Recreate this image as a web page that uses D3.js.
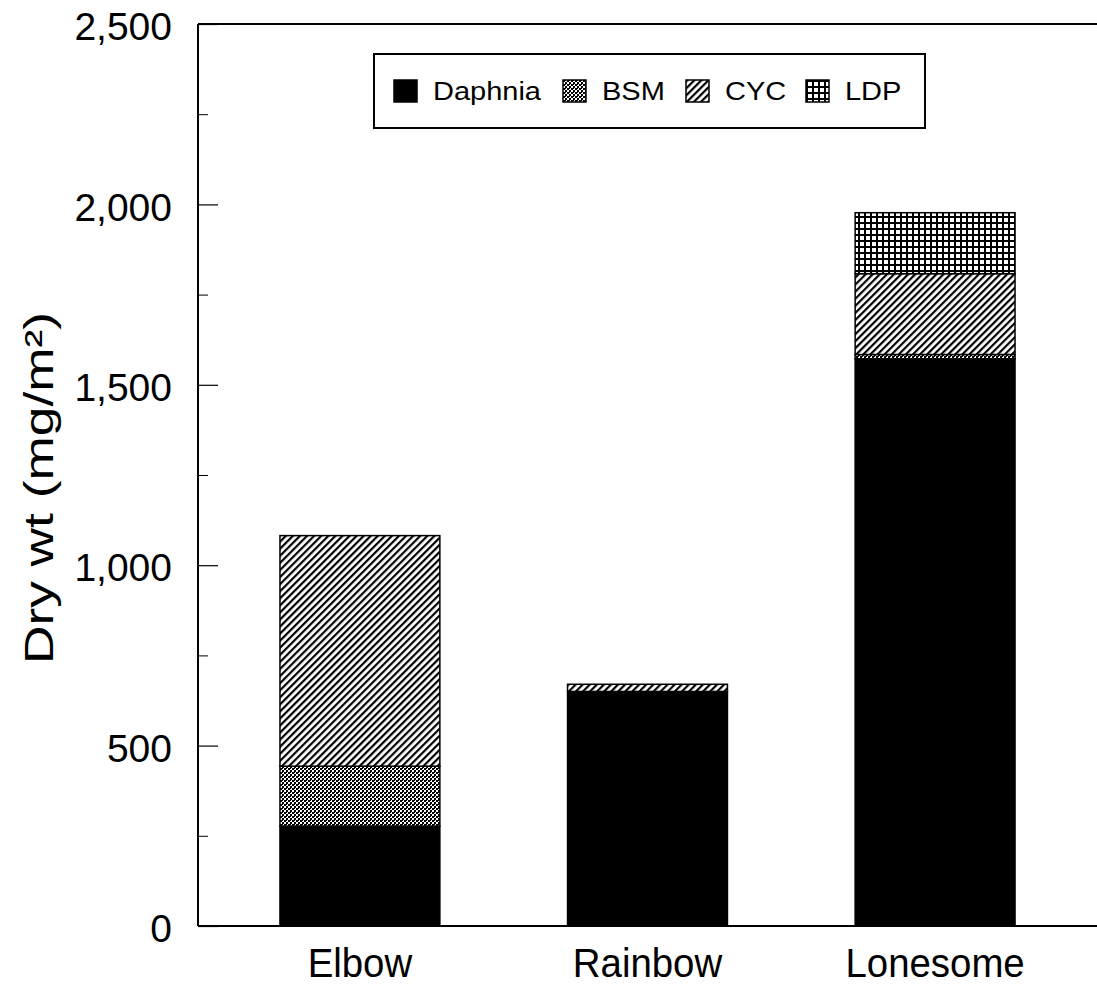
<!DOCTYPE html>
<html>
<head>
<meta charset="utf-8">
<script src="https://cdn.jsdelivr.net/npm/d3@7"></script>
<style>
  body { margin: 0; background: #fff; }
  text { font-family: "Liberation Sans", Arial, sans-serif; fill: #000; }
</style>
</head>
<body>
<script>
// lakes and taxa
var lakes = ['Elbow', 'Rainbow', 'Lonesome'];
var taxa = ['Daphnia', 'BSM', 'CYC', 'LDP'];

// dry weight (mg/m2) per taxon, one value per lake
var daphnia = [277, 650, 1572];
var bsm = [166, 0, 12];
var cyc = [639, 20, 224];
var ldp = [0, 0, 169];

var yTicks = [0, 500, 1000, 1500, 2000, 2500];
var yMinor = [250, 750, 1250, 1750, 2250];

var width = 1097, height = 988;
var plotLeft = 198, plotRight = 1097, plotTop = 24, plotBottom = 926;

var svg = d3.select('body').append('svg')
  .attr('width', width)
  .attr('height', height);

// patterns for the fills
var defs = svg.append('defs');

var pBsm = defs.append('pattern').attr('id', 'bsm')
  .attr('patternUnits', 'userSpaceOnUse').attr('width', 4).attr('height', 4);
pBsm.append('rect').attr('width', 4).attr('height', 4).attr('fill', '#fff');
pBsm.append('rect').attr('x', 0).attr('y', 0).attr('width', 2).attr('height', 2).attr('fill', '#000');
pBsm.append('rect').attr('x', 2).attr('y', 2).attr('width', 2).attr('height', 2).attr('fill', '#000');
pBsm.append('rect').attr('x', 2).attr('y', 0).attr('width', 1).attr('height', 1).attr('fill', '#000');

var pCyc = defs.append('pattern').attr('id', 'cyc')
  .attr('patternUnits', 'userSpaceOnUse').attr('width', 5).attr('height', 5)
  .attr('patternTransform', 'rotate(45)');
pCyc.append('rect').attr('width', 5).attr('height', 5).attr('fill', '#fff');
pCyc.append('rect').attr('x', 0).attr('y', 0).attr('width', 2.2).attr('height', 5).attr('fill', '#000');

var pLdp = defs.append('pattern').attr('id', 'ldp')
  .attr('patternUnits', 'userSpaceOnUse').attr('width', 6).attr('height', 6);
pLdp.append('rect').attr('width', 6).attr('height', 6).attr('fill', '#000');
pLdp.append('rect').attr('x', 2).attr('y', 2).attr('width', 4).attr('height', 4).attr('fill', '#fff');

var fills = { Daphnia: '#000', BSM: 'url(#bsm)', CYC: 'url(#cyc)', LDP: 'url(#ldp)' };

var x = d3.scaleBand()
  .domain(lakes)
  .range([plotLeft, plotRight])
  .paddingInner(0.444)
  .paddingOuter(0.285);

var y = d3.scaleLinear()
  .domain([0, 2500])
  .range([plotBottom, plotTop]);

// stack the series
var rows = lakes.map(function(d, i) {
  return { lake: d, Daphnia: daphnia[i], BSM: bsm[i], CYC: cyc[i], LDP: ldp[i] };
});
var series = d3.stack().keys(taxa)(rows);

var g = svg.append('g');
series.forEach(function(s) {
  g.selectAll(null)
    .data(s.filter(function(d) { return d[1] > d[0]; }))
    .enter()
    .append('rect')
    .attr('x', function(d) { return x(d.data.lake); })
    .attr('width', x.bandwidth())
    .attr('y', function(d) { return y(d[1]); })
    .attr('height', function(d) { return y(d[0]) - y(d[1]); })
    .attr('fill', fills[s.key])
    .attr('stroke', '#000')
    .attr('stroke-width', 1.5);
});

// minor ticks
svg.append('g')
  .attr('transform', 'translate(' + plotLeft + ',0)')
  .call(d3.axisLeft(y).tickValues(yMinor).tickSize(-10).tickFormat(''))
  .call(function(a) { a.select('.domain').remove(); });

// major ticks + labels
var yAxis = svg.append('g')
  .attr('transform', 'translate(' + plotLeft + ',0)')
  .call(d3.axisLeft(y).tickValues(yTicks).tickSize(-20).tickPadding(26).tickFormat(d3.format(',')));
yAxis.select('.domain').remove();
yAxis.selectAll('line').attr('stroke-width', 1.2);
yAxis.selectAll('text')
  .attr('font-size', 39)
  .attr('font-family', '"Liberation Sans", Arial, sans-serif')
  .attr('dy', '0.4em');

// frame lines: left, top, bottom
svg.append('line').attr('x1', plotLeft).attr('x2', plotLeft).attr('y1', plotTop).attr('y2', plotBottom)
  .attr('stroke', '#000').attr('stroke-width', 2);
svg.append('line').attr('x1', plotLeft).attr('x2', plotRight).attr('y1', plotTop).attr('y2', plotTop)
  .attr('stroke', '#000').attr('stroke-width', 2);
svg.append('line').attr('x1', plotLeft).attr('x2', plotRight).attr('y1', plotBottom).attr('y2', plotBottom)
  .attr('stroke', '#000').attr('stroke-width', 2);

// category labels
svg.selectAll('.cat')
  .data(lakes)
  .enter()
  .append('text')
  .attr('class', 'cat')
  .attr('text-anchor', 'middle')
  .attr('font-size', 40)
  .attr('transform', function(d) {
    return 'translate(' + (x(d) + x.bandwidth() / 2) + ',977) scale(0.96,1)';
  })
  .text(function(d) { return d; });

// y label
svg.append('text')
  .attr('text-anchor', 'middle')
  .attr('font-size', 41)
  .attr('transform', 'translate(53,488) rotate(-90) scale(1.3,1)')
  .text('Dry wt (mg/m²)');

// legend
var legend = svg.append('g');
legend.append('rect')
  .attr('x', 374).attr('y', 54).attr('width', 551).attr('height', 74)
  .attr('fill', '#fff').attr('stroke', '#000').attr('stroke-width', 2);

var legX = [394, 563, 686, 806];
var item = legend.selectAll('.leg')
  .data(taxa)
  .enter()
  .append('g')
  .attr('class', 'leg')
  .attr('transform', function(d, i) { return 'translate(' + legX[i] + ',80)'; });
item.append('rect')
  .attr('width', 23).attr('height', 22)
  .attr('fill', function(d) { return fills[d]; })
  .attr('stroke', '#000').attr('stroke-width', 1.5);
item.append('text')
  .attr('font-size', 25)
  .attr('transform', 'translate(39,20) scale(1.16,1)')
  .text(function(d) { return d; });
</script>
</body>
</html>
